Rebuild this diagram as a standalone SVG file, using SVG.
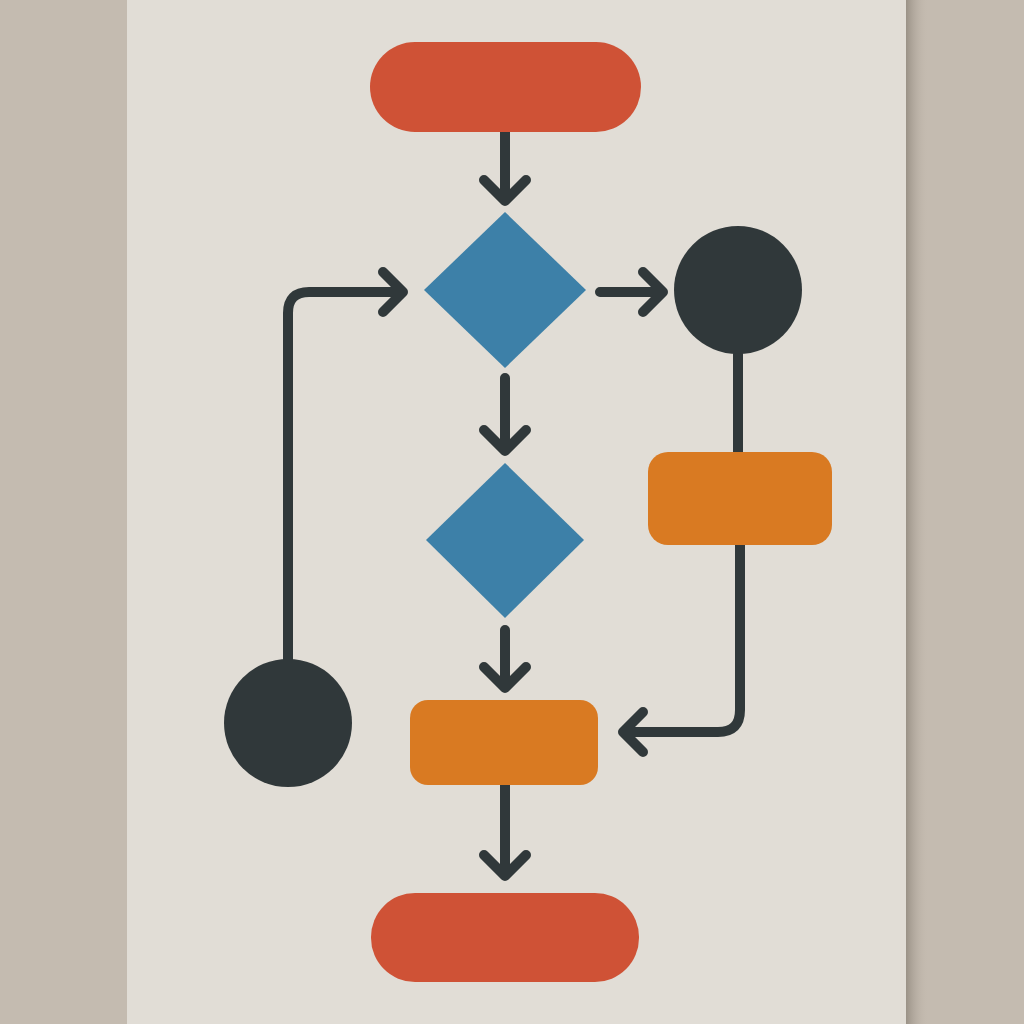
<svg xmlns="http://www.w3.org/2000/svg" width="1024" height="1024" viewBox="0 0 1024 1024">
<defs>
<linearGradient id="shadow" x1="0" x2="1" y1="0" y2="0">
<stop offset="0" stop-color="#8f877c" stop-opacity="0.8"/>
<stop offset="1" stop-color="#c2b8ac" stop-opacity="0"/>
</linearGradient>
<style>
.conn{fill:none;stroke:#30383a;stroke-width:10;stroke-linecap:round;stroke-linejoin:round}
.term{fill:#cf5236}
.proc{fill:#d97a22}
.dec{fill:#3d80a8}
.circ{fill:#30383a}
</style>
</defs>
<rect x="0" y="0" width="1024" height="1024" fill="#c4bbb0"/>
<rect x="906" y="0" width="22" height="1024" fill="url(#shadow)"/>
<rect x="127" y="0" width="779" height="1024" fill="#e1ddd6"/>
<g id="connectors" class="conn">
<path d="M505,132 V198 M484,180 L505,201 L526,180"/>
<path d="M600,292 H660 M643,272 L663,292 L643,312"/>
<path d="M505,378 V448 M484,430 L505,451 L526,430"/>
<path d="M505,630 V685 M484,667 L505,688 L526,667"/>
<path d="M505,785 V872 M484,855 L505,876 L526,855"/>
<path d="M738,354 V452"/>
<path d="M740,545 V710 Q740,732 718,732 H626 M643,712 L623,732 L643,752"/>
<path d="M288,660 V313 Q288,292 309,292 H400 M383,272 L403,292 L383,312"/>
</g>
<g id="start"><rect class="term" x="370" y="42" width="271" height="90" rx="45"/></g>
<g id="decision1"><polygon class="dec" points="505,212 586,290 505,368 424,290"/></g>
<g id="circleRight"><circle class="circ" cx="738" cy="290" r="64"/></g>
<g id="processRight"><rect class="proc" x="648" y="452" width="184" height="93" rx="20"/></g>
<g id="decision2"><polygon class="dec" points="505,463 584,540 505,618 426,540"/></g>
<g id="circleLeft"><circle class="circ" cx="288" cy="723" r="64"/></g>
<g id="process"><rect class="proc" x="410" y="700" width="188" height="85" rx="18"/></g>
<g id="end"><rect class="term" x="371" y="893" width="268" height="89" rx="44"/></g>
</svg>
